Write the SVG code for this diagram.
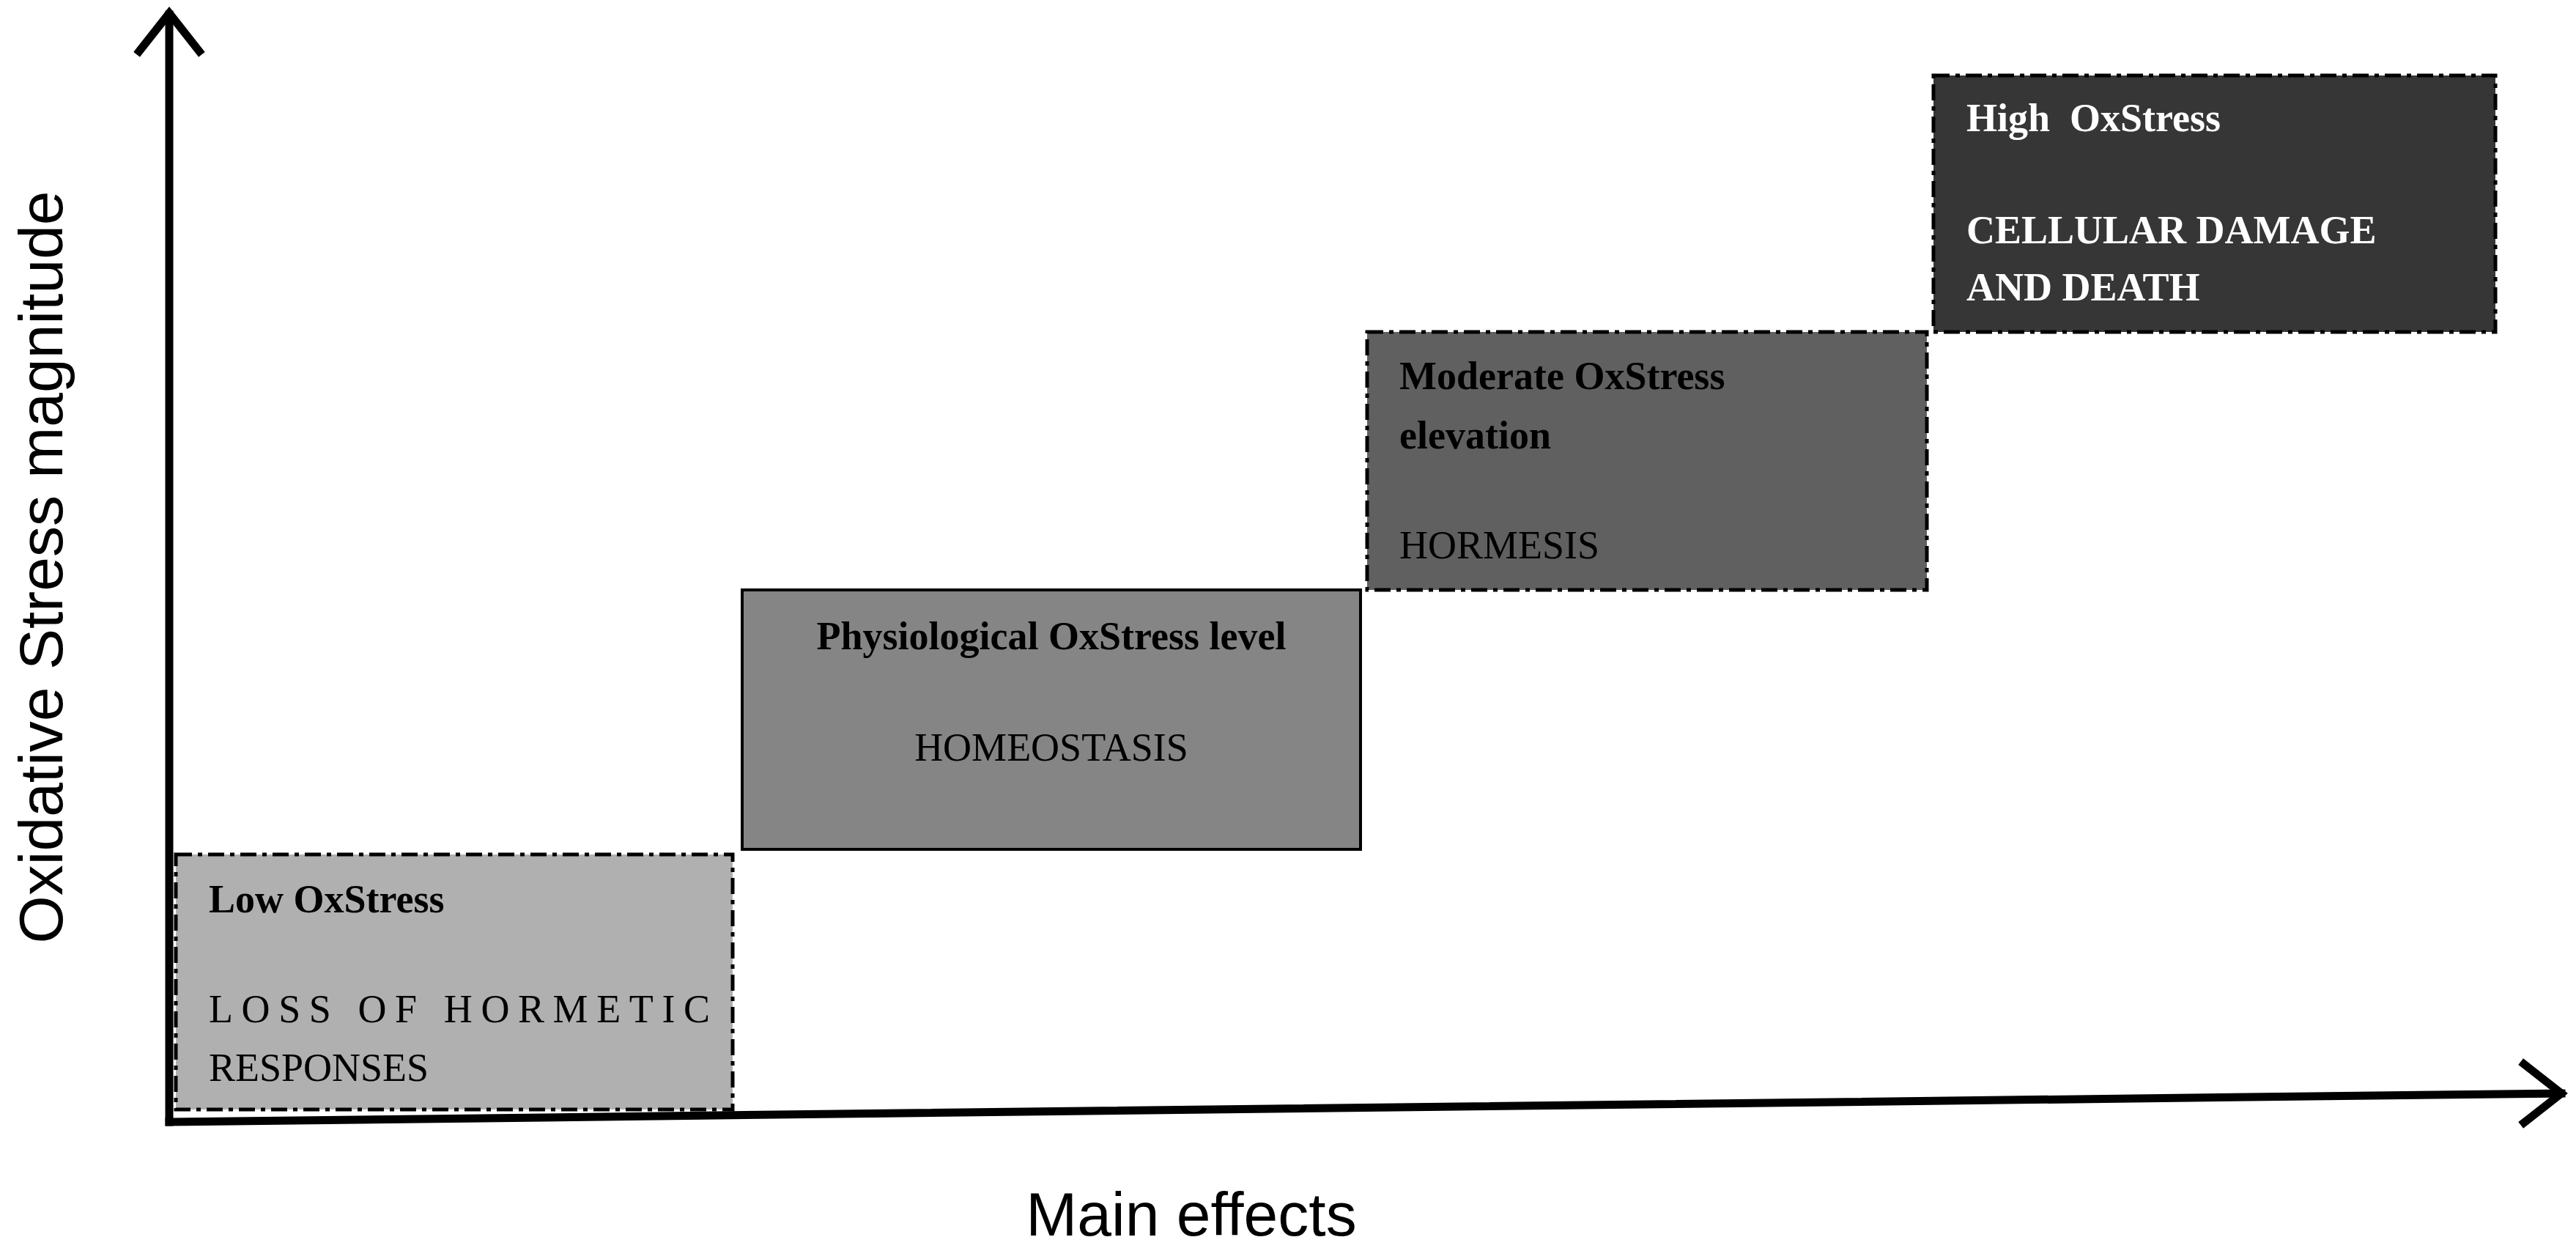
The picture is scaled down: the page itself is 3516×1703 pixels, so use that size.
<svg xmlns="http://www.w3.org/2000/svg" width="3516" height="1703" viewBox="0 0 3516 1703">
<style>
.t{font-family:"Liberation Serif",serif;font-size:54px;fill:#000}
.b{font-weight:bold}
.w{fill:#fff}
.dd{stroke:#000;stroke-width:5;stroke-dasharray:22 8 6 8}
.ax{stroke:#000;stroke-width:11;fill:none;stroke-linecap:square}
.lab{font-family:"Liberation Sans",Arial,sans-serif;font-size:84px;fill:#000}
</style>
<rect width="3516" height="1703" fill="#fff"/>
<g id="connectors">
<path class="ax" d="M231,1531 V20"/>
<path class="ax" d="M190,70 L231,18 L272,70" stroke-linejoin="miter"/>
<path class="ax" d="M231,1531 L3496,1492"/>
<path class="ax" d="M3445,1452 L3496,1492 L3445,1532"/>
</g>
<g id="low">
<rect x="240" y="1166" width="760" height="348" fill="#b0b0b0" class="dd"/>
<text class="t b" x="285" y="1245">Low OxStress</text>
<text class="t" x="285" y="1395" textLength="684" lengthAdjust="spacing">LOSS OF HORMETIC</text>
<text class="t" x="285" y="1475">RESPONSES</text>
</g>
<g id="physiological">
<rect x="1013" y="805" width="844" height="354" fill="#858585" stroke="#000" stroke-width="4"/>
<text class="t b" x="1435" y="886" text-anchor="middle">Physiological OxStress level</text>
<text class="t" x="1435" y="1038" text-anchor="middle">HOMEOSTASIS</text>
</g>
<g id="moderate">
<rect x="1866" y="453" width="764" height="352" fill="#606060" class="dd"/>
<text class="t b" x="1910" y="531">Moderate OxStress</text>
<text class="t b" x="1910" y="612">elevation</text>
<text class="t" x="1910" y="762">HORMESIS</text>
</g>
<g id="high">
<rect x="2639" y="103" width="767" height="350" fill="#363636" class="dd"/>
<text class="t b w" x="2684" y="179" xml:space="preserve">High  OxStress</text>
<text class="t b w" x="2684" y="332">CELLULAR DAMAGE</text>
<text class="t b w" x="2684" y="410">AND DEATH</text>
</g>
<g id="labels">
<text class="lab" transform="translate(85,774) rotate(-90)" text-anchor="middle">Oxidative Stress magnitude</text>
<text class="lab" x="1626" y="1686" text-anchor="middle">Main effects</text>
</g>
</svg>
